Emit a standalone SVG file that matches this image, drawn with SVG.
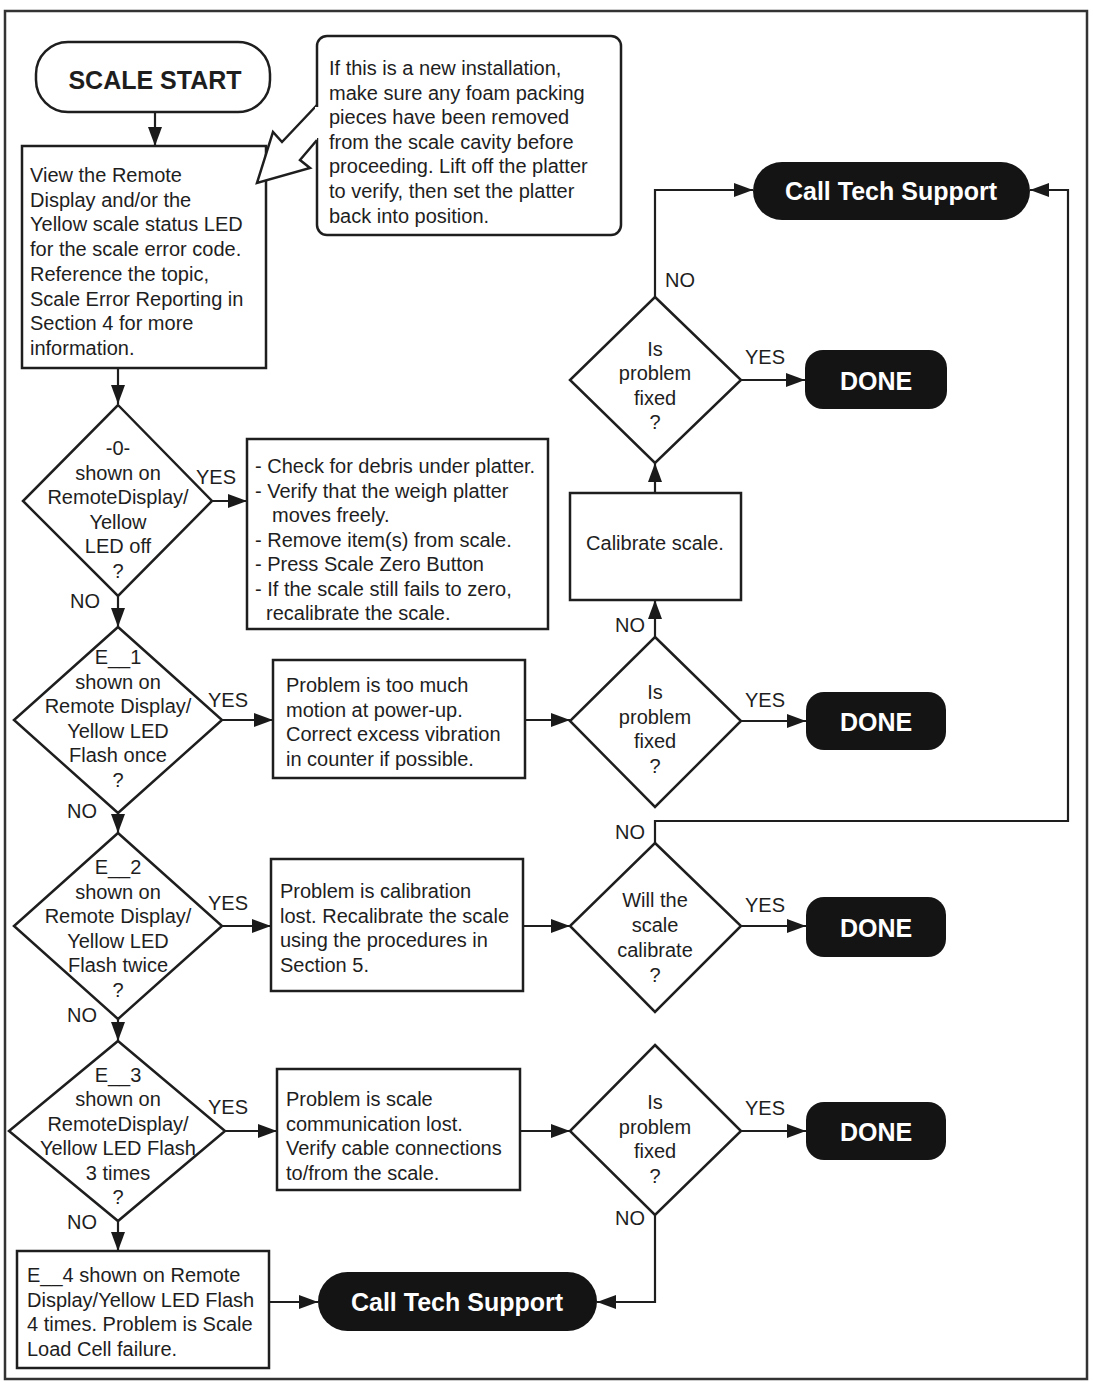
<svg xmlns="http://www.w3.org/2000/svg" width="1093" height="1382" viewBox="0 0 1093 1382">
<defs>
<marker id="ah" markerUnits="userSpaceOnUse" markerWidth="20" markerHeight="14" refX="19" refY="7" orient="auto">
<path d="M0,0 L19,7 L0,14 Z" fill="#1a1a1a"/>
</marker>
<style>
text{font-family:"Liberation Sans",Arial,sans-serif;font-size:20px;fill:#1e1e1e}
.c{text-anchor:middle}
.b{font-weight:bold;font-size:25px}
.w{fill:#ffffff}
.box{fill:#ffffff;stroke:#1e1e1e;stroke-width:2.5}
.term{fill:#141414;stroke:none}
.con{fill:none;stroke:#1e1e1e;stroke-width:2.2}
.arr{marker-end:url(#ah)}
</style>
</defs>
<rect x="0" y="0" width="1093" height="1382" fill="#ffffff"/>
<rect x="5" y="11" width="1082" height="1368" fill="none" stroke="#333333" stroke-width="2.5"/>

<g id="connectors">
<path class="con arr" d="M155,112 L155,146"/>
<path class="con arr" d="M118,368 L118,404"/>
<path class="con arr" d="M212,501 L247,501"/>
<path class="con arr" d="M118,596 L118,627"/>
<path class="con arr" d="M222,720 L273,720"/>
<path class="con arr" d="M525,720 L570,720"/>
<path class="con arr" d="M655,637 L655,600"/>
<path class="con arr" d="M655,493 L655,463"/>
<path class="con arr" d="M741,380 L805,380"/>
<path class="con arr" d="M655,297 L655,190 L753,190"/>
<path class="con arr" d="M741,721 L806,721"/>
<path class="con arr" d="M118,813 L118,833"/>
<path class="con arr" d="M222,926 L271,926"/>
<path class="con arr" d="M523,926 L570,926"/>
<path class="con arr" d="M741,926 L806,926"/>
<path class="con arr" d="M655,843 L655,821 L1068,821 L1068,190 L1030,190"/>
<path class="con arr" d="M118,1019 L118,1041"/>
<path class="con arr" d="M225,1131 L277,1131"/>
<path class="con arr" d="M520,1131 L570,1131"/>
<path class="con arr" d="M741,1131 L806,1131"/>
<path class="con arr" d="M655,1215 L655,1302 L597,1302"/>
<path class="con arr" d="M118,1221 L118,1251"/>
<path class="con arr" d="M269,1302 L318,1302"/>
</g>

<g id="labels">
<text x="745" y="364">YES</text>
<text x="665" y="287">NO</text>
<text x="196" y="484">YES</text>
<text x="70" y="608">NO</text>
<text x="615" y="632">NO</text>
<text x="208" y="707">YES</text>
<text x="745" y="707">YES</text>
<text x="67" y="818">NO</text>
<text x="615" y="839">NO</text>
<text x="208" y="910">YES</text>
<text x="745" y="912">YES</text>
<text x="67" y="1022">NO</text>
<text x="208" y="1114">YES</text>
<text x="745" y="1115">YES</text>
<text x="67" y="1229">NO</text>
<text x="615" y="1225">NO</text>
</g>

<g id="scale-start">
<rect class="box" x="36" y="42" width="234" height="70" rx="32" stroke-width="3"/>
<text class="c b" x="155" y="89">SCALE START</text>
</g>

<g id="view-box">
<rect class="box" x="22" y="146" width="244" height="222"/>
<text x="30" y="182">View the Remote</text>
<text x="30" y="206.7">Display and/or the</text>
<text x="30" y="231.4">Yellow scale status LED</text>
<text x="30" y="256.1">for the scale error code.</text>
<text x="30" y="280.8">Reference the topic,</text>
<text x="30" y="305.5">Scale Error Reporting in</text>
<text x="30" y="330.2">Section 4 for more</text>
<text x="30" y="354.9">information.</text>
</g>

<g id="note">
<rect class="box" x="317" y="36" width="304" height="199" rx="10"/>
<path d="M317,105 L282,142 L273,132 L257,183 L310,168 L300,160 L317,140" fill="#ffffff" stroke="#1e1e1e" stroke-width="2.5" stroke-linejoin="miter"/>
<line x1="317" y1="107" x2="317" y2="138" stroke="#ffffff" stroke-width="4"/>
<text x="329" y="75">If this is a new installation,</text>
<text x="329" y="99.6">make sure any foam packing</text>
<text x="329" y="124.2">pieces have been removed</text>
<text x="329" y="148.8">from the scale cavity before</text>
<text x="329" y="173.4">proceeding. Lift off the platter</text>
<text x="329" y="198">to verify, then set the platter</text>
<text x="329" y="222.6">back into position.</text>
</g>

<g id="d-zero">
<polygon class="box" points="118,405 212,501 118,596 23,501"/>
<text class="c" x="118" y="455">-0-</text>
<text class="c" x="118" y="479.5">shown on</text>
<text class="c" x="118" y="504">RemoteDisplay/</text>
<text class="c" x="118" y="528.5">Yellow</text>
<text class="c" x="118" y="553">LED off</text>
<text class="c" x="118" y="577.5">?</text>
</g>

<g id="zero-box">
<rect class="box" x="247" y="439" width="301" height="190"/>
<text x="255" y="473">- Check for debris under platter.</text>
<text x="255" y="497.5">- Verify that the weigh platter</text>
<text x="272" y="522">moves freely.</text>
<text x="255" y="546.5">- Remove item(s) from scale.</text>
<text x="255" y="571">- Press Scale Zero Button</text>
<text x="255" y="595.5">- If the scale still fails to zero,</text>
<text x="266" y="620">recalibrate the scale.</text>
</g>

<g id="d-e1">
<polygon class="box" points="118,627 222,720 118,813 14,720"/>
<text class="c" x="118" y="664">E__1</text>
<text class="c" x="118" y="688.6">shown on</text>
<text class="c" x="118" y="713.2">Remote Display/</text>
<text class="c" x="118" y="737.8">Yellow LED</text>
<text class="c" x="118" y="762.4">Flash once</text>
<text class="c" x="118" y="787">?</text>
</g>

<g id="e1-box">
<rect class="box" x="273" y="660" width="252" height="118"/>
<text x="286" y="692">Problem is too much</text>
<text x="286" y="716.6">motion at power-up.</text>
<text x="286" y="741.2">Correct excess vibration</text>
<text x="286" y="765.8">in counter if possible.</text>
</g>

<g id="d-fixed1">
<polygon class="box" points="655,637 741,721 655,807 570,721"/>
<text class="c" x="655" y="699">Is</text>
<text class="c" x="655" y="723.6">problem</text>
<text class="c" x="655" y="748.2">fixed</text>
<text class="c" x="655" y="772.8">?</text>
</g>

<g id="calibrate">
<rect class="box" x="570" y="493" width="171" height="107"/>
<text class="c" x="655" y="550">Calibrate scale.</text>
</g>

<g id="d-fixed0">
<polygon class="box" points="655,297 741,380 655,463 570,380"/>
<text class="c" x="655" y="356">Is</text>
<text class="c" x="655" y="380.4">problem</text>
<text class="c" x="655" y="404.8">fixed</text>
<text class="c" x="655" y="429.2">?</text>
</g>

<g id="cts-top">
<rect class="term" x="753" y="162" width="277" height="58" rx="29"/>
<text class="c b w" x="891" y="200">Call Tech Support</text>
</g>

<g id="done1">
<rect class="term" x="805" y="350" width="142" height="59" rx="18"/>
<text class="c b w" x="876" y="390">DONE</text>
</g>

<g id="done2">
<rect class="term" x="806" y="692" width="140" height="58" rx="18"/>
<text class="c b w" x="876" y="731">DONE</text>
</g>

<g id="d-e2">
<polygon class="box" points="118,833 222,926 118,1019 14,926"/>
<text class="c" x="118" y="874">E__2</text>
<text class="c" x="118" y="898.6">shown on</text>
<text class="c" x="118" y="923.2">Remote Display/</text>
<text class="c" x="118" y="947.8">Yellow LED</text>
<text class="c" x="118" y="972.4">Flash twice</text>
<text class="c" x="118" y="997">?</text>
</g>

<g id="e2-box">
<rect class="box" x="271" y="859" width="252" height="132"/>
<text x="280" y="898">Problem is calibration</text>
<text x="280" y="922.6">lost. Recalibrate the scale</text>
<text x="280" y="947.2">using the procedures in</text>
<text x="280" y="971.8">Section 5.</text>
</g>

<g id="d-calibrate">
<polygon class="box" points="655,843 741,926 655,1012 570,926"/>
<text class="c" x="655" y="907">Will the</text>
<text class="c" x="655" y="932">scale</text>
<text class="c" x="655" y="957">calibrate</text>
<text class="c" x="655" y="982">?</text>
</g>

<g id="done3">
<rect class="term" x="806" y="897" width="140" height="60" rx="18"/>
<text class="c b w" x="876" y="937">DONE</text>
</g>

<g id="d-e3">
<polygon class="box" points="118,1041 225,1131 118,1221 9,1131"/>
<text class="c" x="118" y="1082">E__3</text>
<text class="c" x="118" y="1106.4">shown on</text>
<text class="c" x="118" y="1130.8">RemoteDisplay/</text>
<text class="c" x="118" y="1155.2">Yellow LED Flash</text>
<text class="c" x="118" y="1179.6">3 times</text>
<text class="c" x="118" y="1204">?</text>
</g>

<g id="e3-box">
<rect class="box" x="277" y="1069" width="243" height="121"/>
<text x="286" y="1106">Problem is scale</text>
<text x="286" y="1130.5">communication lost.</text>
<text x="286" y="1155">Verify cable connections</text>
<text x="286" y="1179.5">to/from the scale.</text>
</g>

<g id="d-fixed2">
<polygon class="box" points="655,1045 741,1131 655,1215 570,1131"/>
<text class="c" x="655" y="1109">Is</text>
<text class="c" x="655" y="1133.6">problem</text>
<text class="c" x="655" y="1158.2">fixed</text>
<text class="c" x="655" y="1182.8">?</text>
</g>

<g id="done4">
<rect class="term" x="806" y="1102" width="140" height="58" rx="18"/>
<text class="c b w" x="876" y="1141">DONE</text>
</g>

<g id="e4-box">
<rect class="box" x="17" y="1251" width="252" height="117"/>
<text x="27" y="1282">E__4 shown on Remote</text>
<text x="27" y="1306.5">Display/Yellow LED Flash</text>
<text x="27" y="1331">4 times. Problem is Scale</text>
<text x="27" y="1355.5">Load Cell failure.</text>
</g>

<g id="cts-bottom">
<rect class="term" x="318" y="1272" width="279" height="59" rx="29.5"/>
<text class="c b w" x="457" y="1311">Call Tech Support</text>
</g>
</svg>
